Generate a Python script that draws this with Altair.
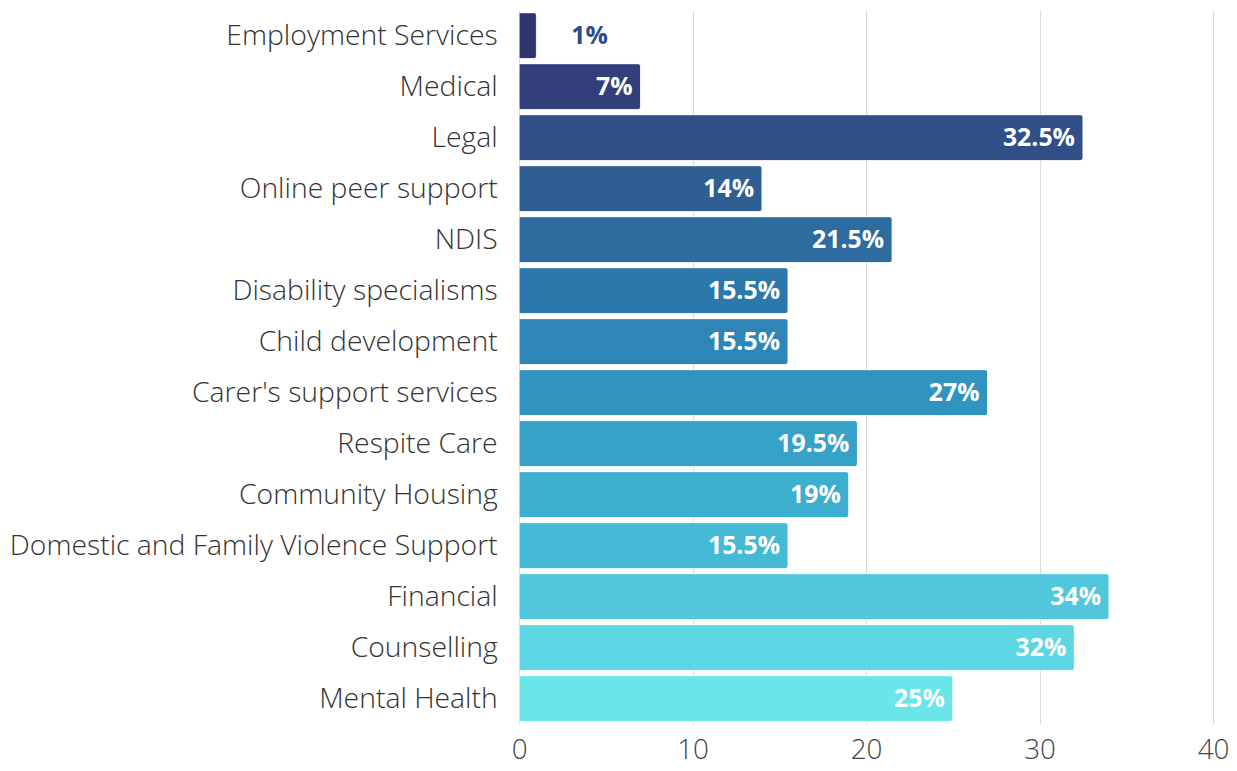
import altair as alt
import pandas as pd

categories = [
    "Employment Services", "Medical", "Legal", "Online peer support", "NDIS",
    "Disability specialisms", "Child development", "Carer's support services",
    "Respite Care", "Community Housing", "Domestic and Family Violence Support",
    "Financial", "Counselling", "Mental Health",
]
values = [1, 7, 32.5, 14, 21.5, 15.5, 15.5, 27, 19.5, 19, 15.5, 34, 32, 25]
labels = ["1%", "7%", "32.5%", "14%", "21.5%", "15.5%", "15.5%", "27%", "19.5%",
          "19%", "15.5%", "34%", "32%", "25%"]
colors = ["#2e346f", "#323f7a", "#304f87", "#2f5e93", "#2e6b9f", "#2d78aa",
          "#2d86b5", "#3094bf", "#36a2c8", "#3caecf", "#44bad6", "#50c7dc",
          "#5dd7e3", "#6ae5e8"]

df = pd.DataFrame({"category": categories, "value": values, "label": labels})

FONT = "Open Sans"

y_enc = alt.Y("category:N", sort=categories, title=None,
              scale=alt.Scale(paddingInner=0.1, paddingOuter=0.05),
              axis=alt.Axis(labelFont=FONT, labelFontSize=28.5, labelFontWeight=300,
                            labelColor="#333333", labelPadding=22, ticks=False,
                            domain=False, grid=False, labelLimit=700))
x_enc = alt.X("value:Q", title=None,
              scale=alt.Scale(domain=[0, 40], nice=False),
              axis=alt.Axis(values=[0, 10, 20, 30, 40], labelFont=FONT,
                            labelFontSize=28, labelFontWeight=300,
                            labelColor="#444444", labelPadding=13, ticks=False,
                            domain=False, grid=True, gridColor="#d8d8d8",
                            gridWidth=1, labelFlush=False))

base = alt.Chart(df)

bars = base.mark_bar(cornerRadiusTopRight=3, cornerRadiusBottomRight=3,
                     stroke="white", strokeWidth=0.5).encode(
    y=y_enc, x=x_enc,
    color=alt.Color("category:N", scale=alt.Scale(domain=categories, range=colors),
                    legend=None),
)

inside = base.transform_filter(alt.datum.value >= 5).mark_text(
    align="right", baseline="middle", dx=-8, font=FONT, fontSize=25,
    fontWeight="bold", color="white").encode(
    y=alt.Y("category:N", sort=categories), x="value:Q", text="label:N")

outside = base.transform_filter(alt.datum.value < 5).mark_text(
    align="left", baseline="middle", dx=35, font=FONT, fontSize=25,
    fontWeight="bold", color="#2b4a8c").encode(
    y=alt.Y("category:N", sort=categories), x="value:Q", text="label:N")

chart = alt.layer(bars, inside, outside).properties(
    width=698, height=718,
    autosize=alt.AutoSizeParams(type="none"),
    padding={"left": 514, "top": 0, "right": 16, "bottom": 44},
).configure_view(stroke=None)

chart.save("out.html", embed_options={"renderer": "svg", "actions": False})
